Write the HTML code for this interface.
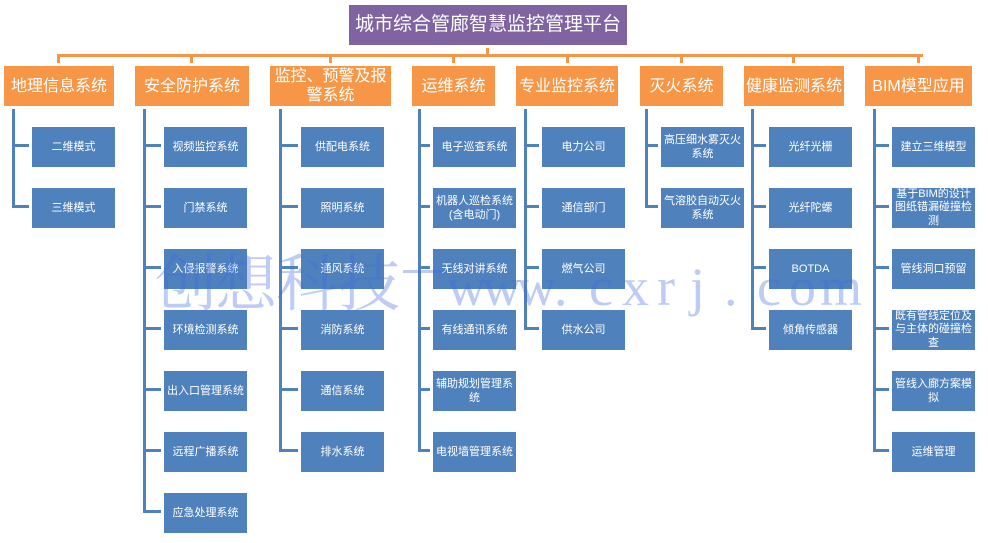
<!DOCTYPE html>
<html><head><meta charset="utf-8">
<style>
html,body{margin:0;padding:0;background:#fff;}
body{width:988px;height:543px;position:relative;overflow:hidden;font-family:"Liberation Sans","Noto Sans CJK SC",sans-serif;}
.a{position:absolute;}
.o{position:absolute;background:#f79646;}
.b{position:absolute;background:#4f81bd;}
.title{position:absolute;left:349px;top:5px;width:278px;height:40px;background:#8064a2;color:#fff;font-size:19px;line-height:40px;text-align:center;white-space:nowrap;}
.l1{position:absolute;top:66px;height:40px;background:#f79646;color:#fff;font-size:16px;line-height:19px;display:flex;align-items:center;justify-content:center;text-align:center;white-space:nowrap;}
.c{position:absolute;width:83px;height:40px;background:#4f81bd;color:#fff;font-size:11px;line-height:14px;display:flex;align-items:center;justify-content:center;text-align:center;white-space:nowrap;}
.c.t3{line-height:13.3px;}
svg.wm{position:absolute;left:0;top:0;}
</style></head><body>

<div class="title">城市综合管廊智慧监控管理平台</div>

<!-- orange connectors -->
<div class="o" style="left:486px;top:48px;width:3px;height:6px"></div>
<div class="o" style="left:57px;top:54px;width:866px;height:3px"></div>
<div class="o" style="left:57px;top:57px;width:3px;height:6px"></div>
<div class="o" style="left:190px;top:57px;width:3px;height:6px"></div>
<div class="o" style="left:329px;top:57px;width:3px;height:6px"></div>
<div class="o" style="left:452px;top:57px;width:3px;height:6px"></div>
<div class="o" style="left:566px;top:57px;width:3px;height:6px"></div>
<div class="o" style="left:680px;top:57px;width:3px;height:6px"></div>
<div class="o" style="left:792px;top:57px;width:3px;height:6px"></div>
<div class="o" style="left:917px;top:57px;width:3px;height:6px"></div>

<!-- level 1 -->
<div class="l1" style="left:4px;width:110px">地理信息系统</div>
<div class="l1" style="left:135px;width:114px">安全防护系统</div>
<div class="l1" style="left:270px;width:121px">监控、预警及报<br>警系统</div>
<div class="l1" style="left:412px;width:83px">运维系统</div>
<div class="l1" style="left:516px;width:102px">专业监控系统</div>
<div class="l1" style="left:640px;width:83px">灭火系统</div>
<div class="l1" style="left:744px;width:100px">健康监测系统</div>
<div class="l1" style="left:865px;width:107px">BIM模型应用</div>

<!-- blue vertical lines -->
<div class="b" style="left:12px;top:109px;width:3px;height:99px"></div>
<div class="b" style="left:143px;top:109px;width:3px;height:404px"></div>
<div class="b" style="left:279px;top:109px;width:3px;height:343px"></div>
<div class="b" style="left:418px;top:109px;width:3px;height:343px"></div>
<div class="b" style="left:524px;top:109px;width:3px;height:221px"></div>
<div class="b" style="left:645px;top:109px;width:3px;height:99px"></div>
<div class="b" style="left:751px;top:109px;width:3px;height:221px"></div>
<div class="b" style="left:873px;top:109px;width:3px;height:343px"></div>

<!-- branches col1 -->
<div class="b" style="left:15px;top:144px;width:14px;height:3px"></div>
<div class="b" style="left:15px;top:205px;width:14px;height:3px"></div>
<!-- col2 -->
<div class="b" style="left:146px;top:144px;width:15px;height:3px"></div>
<div class="b" style="left:146px;top:205px;width:15px;height:3px"></div>
<div class="b" style="left:146px;top:266px;width:15px;height:3px"></div>
<div class="b" style="left:146px;top:327px;width:15px;height:3px"></div>
<div class="b" style="left:146px;top:388px;width:15px;height:3px"></div>
<div class="b" style="left:146px;top:449px;width:15px;height:3px"></div>
<div class="b" style="left:146px;top:510px;width:15px;height:3px"></div>
<!-- col3 -->
<div class="b" style="left:282px;top:144px;width:16px;height:3px"></div>
<div class="b" style="left:282px;top:205px;width:16px;height:3px"></div>
<div class="b" style="left:282px;top:266px;width:16px;height:3px"></div>
<div class="b" style="left:282px;top:327px;width:16px;height:3px"></div>
<div class="b" style="left:282px;top:388px;width:16px;height:3px"></div>
<div class="b" style="left:282px;top:449px;width:16px;height:3px"></div>
<!-- col4 -->
<div class="b" style="left:421px;top:144px;width:9px;height:3px"></div>
<div class="b" style="left:421px;top:205px;width:9px;height:3px"></div>
<div class="b" style="left:421px;top:266px;width:9px;height:3px"></div>
<div class="b" style="left:421px;top:327px;width:9px;height:3px"></div>
<div class="b" style="left:421px;top:388px;width:9px;height:3px"></div>
<div class="b" style="left:421px;top:449px;width:9px;height:3px"></div>
<!-- col5 -->
<div class="b" style="left:527px;top:144px;width:12px;height:3px"></div>
<div class="b" style="left:527px;top:205px;width:12px;height:3px"></div>
<div class="b" style="left:527px;top:266px;width:12px;height:3px"></div>
<div class="b" style="left:527px;top:327px;width:12px;height:3px"></div>
<!-- col6 -->
<div class="b" style="left:648px;top:144px;width:10px;height:3px"></div>
<div class="b" style="left:648px;top:205px;width:10px;height:3px"></div>
<!-- col7 -->
<div class="b" style="left:754px;top:144px;width:12px;height:3px"></div>
<div class="b" style="left:754px;top:205px;width:12px;height:3px"></div>
<div class="b" style="left:754px;top:266px;width:12px;height:3px"></div>
<div class="b" style="left:754px;top:327px;width:12px;height:3px"></div>
<!-- col8 -->
<div class="b" style="left:876px;top:144px;width:13px;height:3px"></div>
<div class="b" style="left:876px;top:205px;width:13px;height:3px"></div>
<div class="b" style="left:876px;top:266px;width:13px;height:3px"></div>
<div class="b" style="left:876px;top:327px;width:13px;height:3px"></div>
<div class="b" style="left:876px;top:388px;width:13px;height:3px"></div>
<div class="b" style="left:876px;top:449px;width:13px;height:3px"></div>

<!-- child boxes col1 -->
<div class="c" style="left:32px;top:127px">二维模式</div>
<div class="c" style="left:32px;top:188px">三维模式</div>
<!-- col2 -->
<div class="c" style="left:164px;top:127px">视频监控系统</div>
<div class="c" style="left:164px;top:188px">门禁系统</div>
<div class="c" style="left:164px;top:249px">入侵报警系统</div>
<div class="c" style="left:164px;top:310px">环境检测系统</div>
<div class="c" style="left:164px;top:371px">出入口管理系统</div>
<div class="c" style="left:164px;top:432px">远程广播系统</div>
<div class="c" style="left:164px;top:493px">应急处理系统</div>
<!-- col3 -->
<div class="c" style="left:301px;top:127px">供配电系统</div>
<div class="c" style="left:301px;top:188px">照明系统</div>
<div class="c" style="left:301px;top:249px">通风系统</div>
<div class="c" style="left:301px;top:310px">消防系统</div>
<div class="c" style="left:301px;top:371px">通信系统</div>
<div class="c" style="left:301px;top:432px">排水系统</div>
<!-- col4 -->
<div class="c" style="left:433px;top:127px">电子巡查系统</div>
<div class="c" style="left:433px;top:188px">机器人巡检系统<br>(含电动门)</div>
<div class="c" style="left:433px;top:249px">无线对讲系统</div>
<div class="c" style="left:433px;top:310px">有线通讯系统</div>
<div class="c" style="left:433px;top:371px">辅助规划管理系<br>统</div>
<div class="c" style="left:433px;top:432px">电视墙管理系统</div>
<!-- col5 -->
<div class="c" style="left:542px;top:127px">电力公司</div>
<div class="c" style="left:542px;top:188px">通信部门</div>
<div class="c" style="left:542px;top:249px">燃气公司</div>
<div class="c" style="left:542px;top:310px">供水公司</div>
<!-- col6 -->
<div class="c" style="left:661px;top:127px">高压细水雾灭火<br>系统</div>
<div class="c" style="left:661px;top:188px">气溶胶自动灭火<br>系统</div>
<!-- col7 -->
<div class="c" style="left:769px;top:127px">光纤光栅</div>
<div class="c" style="left:769px;top:188px">光纤陀螺</div>
<div class="c" style="left:769px;top:249px">BOTDA</div>
<div class="c" style="left:769px;top:310px">倾角传感器</div>
<!-- col8 -->
<div class="c" style="left:892px;top:127px">建立三维模型</div>
<div class="c t3" style="left:892px;top:188px">基于BIM的设计<br>图纸错漏碰撞检<br>测</div>
<div class="c" style="left:892px;top:249px">管线洞口预留</div>
<div class="c t3" style="left:892px;top:310px">既有管线定位及<br>与主体的碰撞检<br>查</div>
<div class="c" style="left:892px;top:371px">管线入廊方案模<br>拟</div>
<div class="c" style="left:892px;top:432px">运维管理</div>

<!-- watermark -->
<svg class="wm" width="988" height="543" viewBox="0 0 988 543">
<g fill="rgb(65,105,225)" fill-opacity="0.35" font-family="'Noto Serif CJK SC','Liberation Serif',serif" font-size="62">
<text x="155" y="305">创</text>
<text x="215" y="305">想</text>
<text x="276" y="305">科</text>
<text x="338" y="305">技</text>
</g>
<rect x="403" y="270" width="44" height="3" fill="rgb(65,105,225)" fill-opacity="0.35"/>
<g fill="rgb(65,105,225)" fill-opacity="0.35" font-family="'Liberation Serif',serif" font-size="54">
<text x="447" y="305">w</text>
<text x="482" y="305">w</text>
<text x="517" y="305">w</text>
<text x="554" y="305">.</text>
<text x="589" y="305">c</text>
<text x="622" y="305">x</text>
<text x="657" y="305">r</text>
<text x="690" y="305">j</text>
<text x="724" y="305">.</text>
<text x="757" y="305">c</text>
<text x="789" y="305">o</text>
<text x="820" y="305">m</text>
</g>
</svg>

</body></html>
